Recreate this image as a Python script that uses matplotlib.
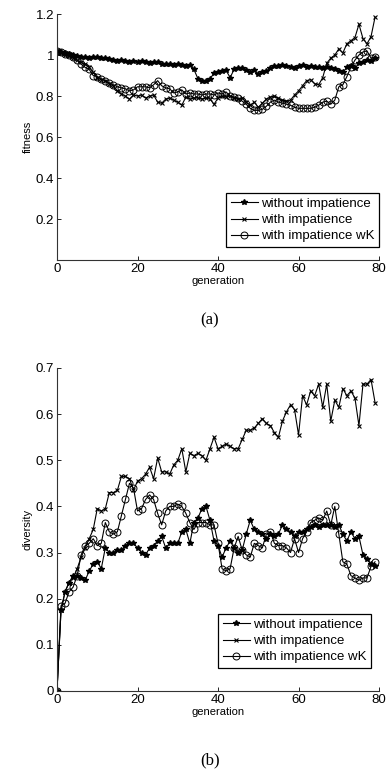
import numpy as np
import matplotlib
matplotlib.use('Agg')
import matplotlib.pyplot as plt

generaciones = np.arange(80)

# (a) fitness
fit_sin = [1.02, 1.015, 1.01, 1.005, 1.0, 0.995, 0.99, 0.99, 0.985, 0.99,
           0.99, 0.985, 0.985, 0.98, 0.975, 0.97, 0.975, 0.97, 0.965, 0.97,
           0.965, 0.97, 0.965, 0.96, 0.965, 0.965, 0.955, 0.955, 0.955, 0.95,
           0.955, 0.95, 0.945, 0.95, 0.93, 0.885, 0.875, 0.875, 0.885, 0.91,
           0.915, 0.92, 0.925, 0.89, 0.93, 0.935, 0.935, 0.925, 0.915, 0.925,
           0.905, 0.915, 0.92, 0.935, 0.945, 0.945, 0.95, 0.945, 0.94, 0.935,
           0.945, 0.95, 0.94, 0.945, 0.94, 0.94, 0.935, 0.94, 0.935, 0.93,
           0.92, 0.915, 0.94, 0.945, 0.935, 0.96, 0.965, 0.975, 0.97, 0.985]
fit_con = [1.02, 1.01, 1.0, 0.995, 0.985, 0.975, 0.965, 0.955, 0.94, 0.915,
           0.89, 0.88, 0.875, 0.86, 0.85, 0.825, 0.81, 0.80, 0.785, 0.805,
           0.80, 0.805, 0.79, 0.80, 0.805, 0.77, 0.765, 0.785, 0.79, 0.78,
           0.77, 0.755, 0.795, 0.785, 0.79, 0.79, 0.785, 0.79, 0.785, 0.76,
           0.79, 0.80, 0.795, 0.80, 0.79, 0.785, 0.79, 0.77, 0.755, 0.77,
           0.745, 0.765, 0.785, 0.795, 0.80, 0.79, 0.78, 0.775, 0.78, 0.805,
           0.825, 0.85, 0.875, 0.88, 0.86, 0.855, 0.89, 0.96, 0.985, 1.0,
           1.03, 1.01, 1.055, 1.07, 1.085, 1.15, 1.08, 1.055, 1.09, 1.185]
fit_wk = [1.02, 1.015, 1.005, 1.0, 0.99, 0.975, 0.955, 0.94, 0.93, 0.90,
          0.895, 0.885, 0.875, 0.865, 0.855, 0.845, 0.84, 0.835, 0.825, 0.83,
          0.845, 0.845, 0.845, 0.84, 0.855, 0.875, 0.85, 0.84, 0.835, 0.815,
          0.82, 0.83, 0.81, 0.815, 0.81, 0.81, 0.805, 0.81, 0.81, 0.805,
          0.815, 0.81, 0.82, 0.80, 0.795, 0.79, 0.775, 0.76, 0.74, 0.73,
          0.73, 0.735, 0.75, 0.77, 0.78, 0.77, 0.765, 0.76, 0.755, 0.745,
          0.74, 0.74, 0.74, 0.74, 0.745, 0.755, 0.77, 0.775, 0.76, 0.78,
          0.845, 0.855, 0.895, 0.94, 0.975, 1.0, 1.015, 1.02, 0.985, 0.99]

# (b) diversity
div_sin = [0.0, 0.175, 0.215, 0.235, 0.25, 0.25, 0.245, 0.24, 0.26, 0.275,
           0.28, 0.265, 0.31, 0.30, 0.30, 0.305, 0.305, 0.315, 0.32, 0.32,
           0.31, 0.30, 0.295, 0.31, 0.315, 0.325, 0.335, 0.31, 0.32, 0.32,
           0.32, 0.345, 0.35, 0.32, 0.365, 0.375, 0.395, 0.40, 0.37, 0.325,
           0.315, 0.29, 0.31, 0.325, 0.31, 0.30, 0.305, 0.34, 0.37, 0.35,
           0.345, 0.34, 0.33, 0.34, 0.335, 0.34, 0.36, 0.35, 0.345, 0.335,
           0.345, 0.345, 0.35, 0.355, 0.36, 0.355, 0.36, 0.36, 0.36, 0.355,
           0.36, 0.34, 0.325, 0.345, 0.33, 0.335, 0.295, 0.285, 0.275, 0.27]
div_con = [0.0, 0.175, 0.215, 0.235, 0.245, 0.265, 0.29, 0.31, 0.33, 0.35,
           0.395, 0.39, 0.395, 0.43, 0.43, 0.435, 0.465, 0.465, 0.46, 0.435,
           0.455, 0.46, 0.47, 0.485, 0.46, 0.505, 0.475, 0.475, 0.47, 0.49,
           0.50, 0.525, 0.475, 0.515, 0.51, 0.515, 0.51, 0.50, 0.525, 0.55,
           0.525, 0.53, 0.535, 0.53, 0.525, 0.525, 0.545, 0.565, 0.565, 0.57,
           0.58, 0.59, 0.58, 0.575, 0.56, 0.55, 0.585, 0.605, 0.62, 0.61,
           0.555, 0.64, 0.62, 0.65, 0.64, 0.665, 0.615, 0.665, 0.585, 0.63,
           0.615, 0.655, 0.64, 0.65, 0.635, 0.575, 0.665, 0.665, 0.675, 0.625]
div_wk = [0.0, 0.185, 0.19, 0.215, 0.225, 0.25, 0.295, 0.315, 0.32, 0.33,
          0.315, 0.32, 0.365, 0.345, 0.34, 0.345, 0.38, 0.415, 0.45, 0.44,
          0.39, 0.395, 0.415, 0.425, 0.415, 0.385, 0.36, 0.39, 0.40, 0.40,
          0.405, 0.40, 0.385, 0.365, 0.35, 0.365, 0.365, 0.365, 0.36, 0.36,
          0.32, 0.265, 0.26, 0.265, 0.31, 0.335, 0.305, 0.295, 0.29, 0.32,
          0.315, 0.31, 0.34, 0.345, 0.32, 0.315, 0.315, 0.31, 0.30, 0.33,
          0.30, 0.33, 0.345, 0.365, 0.37, 0.375, 0.37, 0.39, 0.36, 0.40,
          0.34, 0.28, 0.275, 0.25, 0.245, 0.24, 0.245, 0.245, 0.27, 0.28]

etiquetas = ['without impatience', 'with impatience', 'with impatience wK']

plt.rcParams['font.family'] = ['Liberation Sans', 'DejaVu Sans']

fig = plt.figure(figsize=(3.89, 7.75), dpi=100)
ax1 = fig.add_axes([0.1465, 0.6645, 0.828, 0.3174])
ax2 = fig.add_axes([0.1465, 0.1084, 0.828, 0.4168])


def dibujar(ax, s1, s2, s3):
    ax.plot(generaciones, s1, color='black', lw=0.8, marker='*', ms=4, label=etiquetas[0])
    ax.plot(generaciones, s2, color='black', lw=0.8, marker='x', ms=3.5, mew=0.8, label=etiquetas[1])
    ax.plot(generaciones, s3, color='black', lw=0.8, marker='o', ms=5, mfc='none', mew=0.7,
            label=etiquetas[2])
    ax.set_xlim(0, 80)
    ax.set_xticks([0, 20, 40, 60, 80])
    for lado in ['top', 'right']:
        ax.spines[lado].set_visible(False)
    for lado in ['left', 'bottom']:
        ax.spines[lado].set_linewidth(0.8)
        ax.spines[lado].set_color('#333333')
    ax.tick_params(direction='in', length=3, width=0.6, labelsize=9.5, pad=2)
    ax.set_xlabel('generation', fontsize=8, labelpad=1)


def leyenda(ax, ancla):
    leg = ax.legend(loc='lower right', bbox_to_anchor=ancla, fontsize=9.5, numpoints=1,
                    handlelength=2.1, handletextpad=0.2, borderpad=0.35, labelspacing=0.3,
                    borderaxespad=0, fancybox=False, framealpha=1)
    leg.get_frame().set_edgecolor('black')
    leg.get_frame().set_linewidth(0.9)


dibujar(ax1, fit_sin, fit_con, fit_wk)
ax1.set_ylim(0, 1.2)
ax1.set_yticks([0.2, 0.4, 0.6, 0.8, 1.0, 1.2])
ax1.set_yticklabels(['0.2', '0.4', '0.6', '0.8', '1', '1.2'])
ax1.set_ylabel('fitness', fontsize=8, labelpad=2)
leyenda(ax1, (1.0, 0.053))

dibujar(ax2, div_sin, div_con, div_wk)
ax2.set_ylim(0, 0.7)
ax2.set_yticks([0, 0.1, 0.2, 0.3, 0.4, 0.5, 0.6, 0.7])
ax2.set_yticklabels(['0', '0.1', '0.2', '0.3', '0.4', '0.5', '0.6', '0.7'])
ax2.set_ylabel('diversity', fontsize=8, labelpad=2)
leyenda(ax2, (0.975, 0.071))

fig.text(210 / 389, 1 - 320 / 775, '(a)', family='Liberation Serif', fontsize=12,
         ha='center', va='center')
fig.text(210 / 389, 1 - 760 / 775, '(b)', family='Liberation Serif', fontsize=12,
         ha='center', va='center')

fig.savefig('out.png', dpi=100)
